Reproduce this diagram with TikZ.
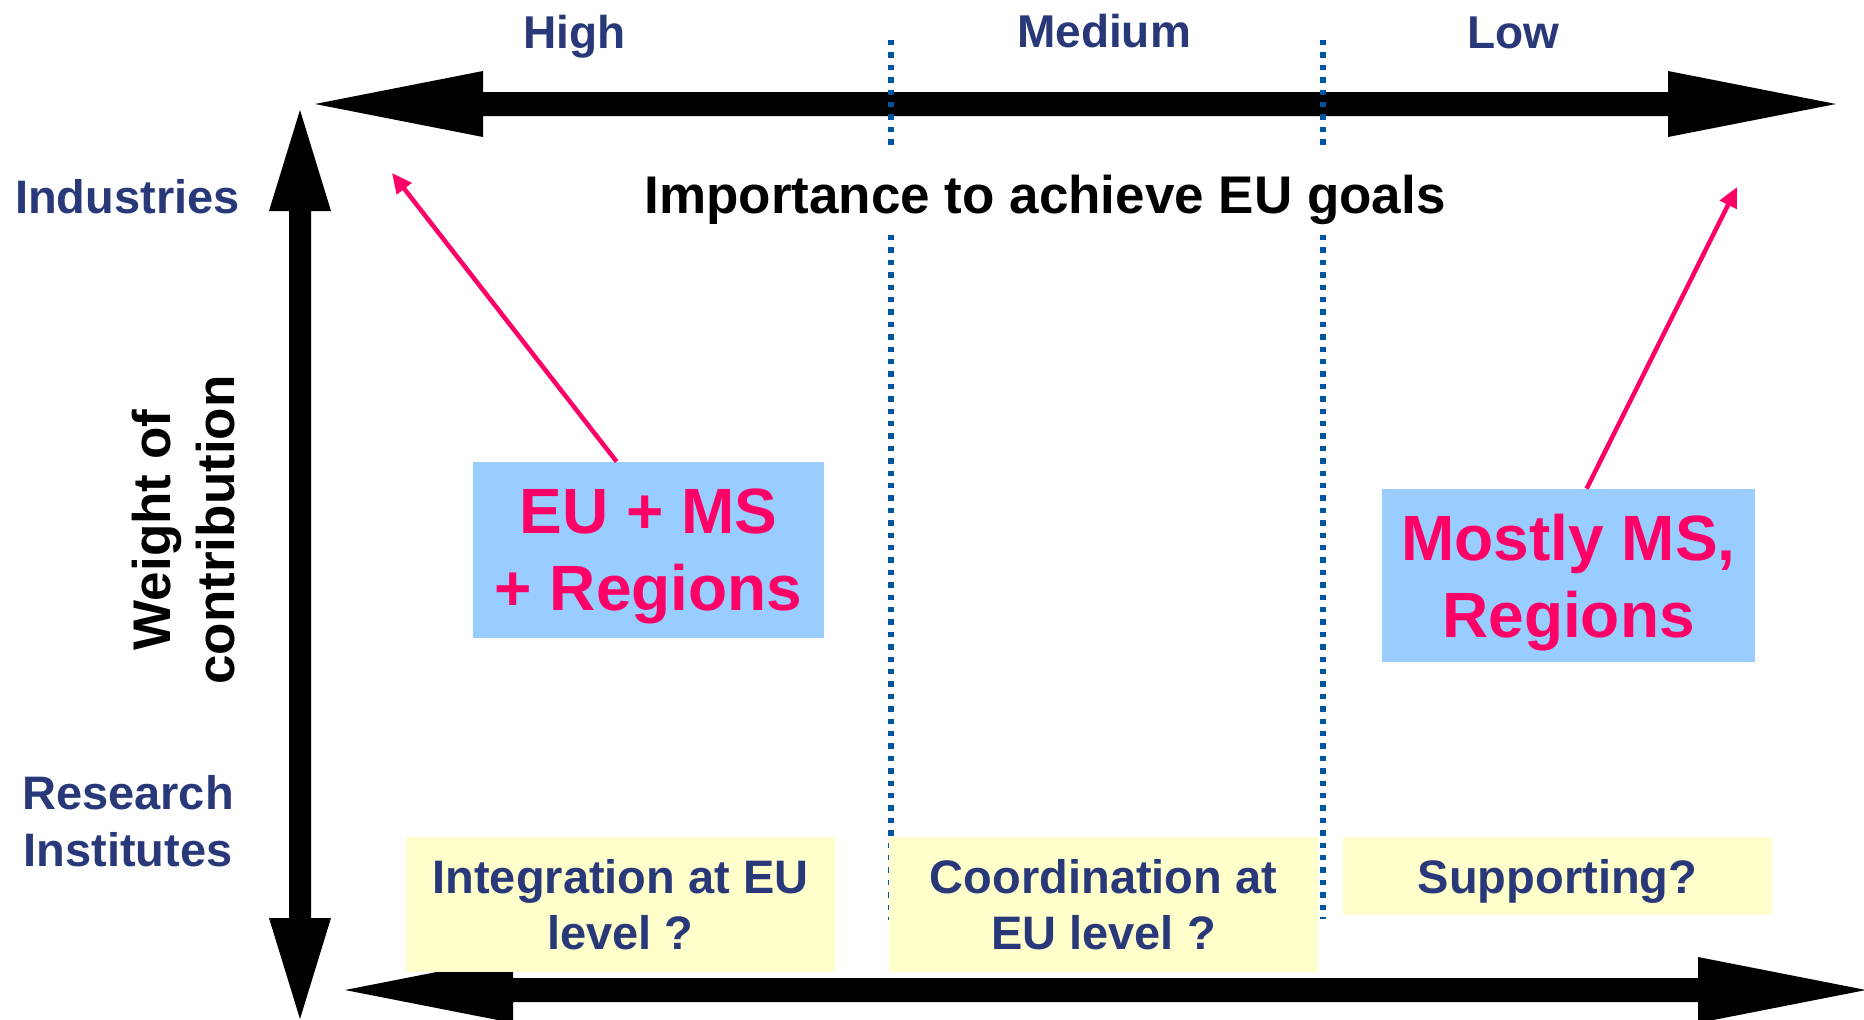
\documentclass[tikz,border=0pt]{standalone}
\usepackage{fontspec}
\setmainfont{Liberation Sans}
\usetikzlibrary{arrows.meta,calc}
\definecolor{navy}{HTML}{283878}
\definecolor{hotpink}{HTML}{FF0066}
\definecolor{lightblue}{HTML}{99CCFF}
\definecolor{lightyellow}{HTML}{FFFFCC}
\definecolor{dotblue}{HTML}{00559F}
\begin{document}
\begin{tikzpicture}[x=0.5pt,y=-0.5pt,
  bigarrow/.style={fill=black},
  divider/.style={draw=dotblue,line width=2.9pt,dash pattern=on 2.7pt off 3.5pt},
  bluebox/.style={fill=lightblue,inner sep=0pt,align=center,text=hotpink,font=\bfseries\fontsize{32}{38.4}\selectfont,text depth=0pt},
  yellowbox/.style={fill=lightyellow,inner sep=0pt,align=center,text=navy,font=\bfseries\fontsize{23.5}{28.2}\selectfont,minimum width=214.5pt},
  levellabel/.style={text=navy,font=\bfseries\fontsize{23}{27.6}\selectfont,anchor=base,inner sep=0pt},
  actor/.style={text=navy,font=\bfseries\fontsize{23.5}{28.2}\selectfont,align=center,inner sep=0pt},
  pinkarrow/.style={draw=hotpink,line width=2.25pt,-{Triangle[length=10pt,width=9pt]}}
]
\path[use as bounding box] (0,0) rectangle (1864,1019);

% big axes
\fill[bigarrow] (315,104) -- (483,71) -- (483,92) -- (1668,92) -- (1668,71) -- (1836,104)
  -- (1668,137) -- (1668,116) -- (483,116) -- (483,137) -- cycle;
\fill[bigarrow] (345,990) -- (513,957) -- (513,978) -- (1698,978) -- (1698,957) -- (1866,990)
  -- (1698,1023) -- (1698,1002) -- (513,1002) -- (513,1023) -- cycle;
\fill[bigarrow] (300,110) -- (331,211) -- (311,211) -- (311,918) -- (331,918) -- (300,1019)
  -- (269,918) -- (289,918) -- (289,211) -- (269,211) -- cycle;

% dotted dividers
\coordinate (d1a) at (891,40);  \coordinate (d1b) at (891,150);
\coordinate (d1c) at (891,235); \coordinate (d1d) at (891,920);
\coordinate (d2a) at (1323,40);  \coordinate (d2b) at (1323,150);
\coordinate (d2c) at (1323,235); \coordinate (d2d) at (1323,919);
\draw[divider] (d1a) -- (d1b);
\draw[divider] (d1c) -- (d1d);
\draw[divider] (d2a) -- (d2b);
\draw[divider] (d2c) -- (d2d);

% column labels
\node[levellabel] (high) at (574.5,48) {High};
\node[levellabel] (medium) at (1104,47) {Medium};
\node[levellabel] (low) at (1513,48) {Low};

\node[anchor=base,inner sep=0pt,font=\bfseries\fontsize{26.5}{31.8}\selectfont] (importance) at (1045,213) {Importance to achieve EU goals};

% row labels
\node[actor,anchor=base] (industries) at (127.5,213) {Industries};
\node[actor] (research) at (128,821) {Research\\Institutes};
\node[rotate=90,align=center,inner sep=0pt,font=\bfseries\fontsize{26.5}{31.8}\selectfont] (weight) at (183.5,530) {Weight of\\contribution};

% blue boxes
\node[bluebox,minimum width=175.5pt,minimum height=88pt] (eums) at (648.5,550) {EU + MS\\+ Regions};
\node[bluebox,minimum width=186.5pt,minimum height=86.5pt] (mostly) at (1568.5,575.5) {Mostly MS,\\Regions};

% yellow boxes
\node[yellowbox,minimum height=67.5pt] (integration) at (620.5,904.5) {Integration at EU\\level ?};
\node[yellowbox,minimum height=67.5pt] (coordination) at (1103.5,904.5) {Coordination at\\EU level ?};
\node[yellowbox,minimum height=39pt,text depth=0pt] (supporting) at (1557.5,876) {Supporting?};

% pink arrows
\coordinate (p1) at (392,173);
\coordinate (p2) at (1737,187);
\draw[pinkarrow] ($(eums.north west)+(144,0)$) -- (p1);
\draw[pinkarrow] ($(mostly.north west)+(205,0)$) -- (p2);
\end{tikzpicture}
\end{document}
